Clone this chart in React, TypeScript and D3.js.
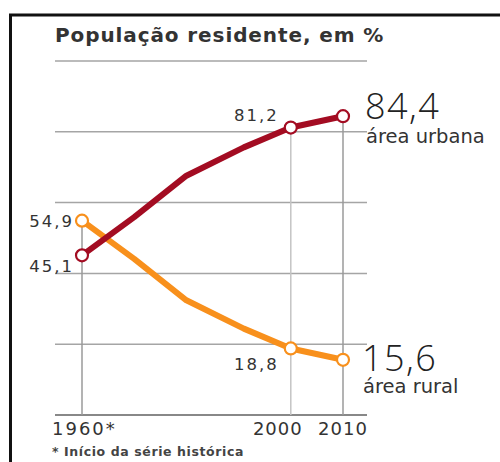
import * as d3 from "d3";
import React from "react";

const years = [1960, 1970, 1980, 1991, 2000, 2010];
const urbana = [45.1, 55.9, 67.6, 75.6, 81.2, 84.4];
const rural = [54.9, 44.1, 32.4, 24.4, 18.8, 15.6];
const gridValues = [0, 20, 40, 60, 80, 100];
const tickYears = [1960, 2000, 2010];
const tickLabels = ["1960*", "2000", "2010"];

const W = 500;
const H = 462;
const SANS = "'DejaVu Sans', Verdana, sans-serif";
const LIGHT = "'Open Sans', sans-serif";
const RED = "#a30c22";
const ORANGE = "#f8901c";

const fmt = (v: number) => d3.format(".1f")(v).replace(".", ",");

const App = () => {
	const x = d3.scaleLinear().domain([1960, 2010]).range([82, 343]);
	const y = d3.scaleLinear().domain([0, 100]).range([415, 61]);

	const line = d3
		.line<number>()
		.x((_, i) => x(years[i]))
		.y((d) => y(d));

	const last = years.length - 1;
	const i2000 = years.indexOf(2000);

	// tick label anchors: 1960* starts left of its line, 2000 nudged left to clear 2010
	const tickX = [52, x(2000) - 13, x(2010)];
	const tickAnchor = ["start", "middle", "middle"];

	return (
		<svg
			width={W}
			height={H}
			style={{ position: "absolute", left: 0, top: 0, background: "#fff" }}
		>
			{/* frame */}
			<line x1={10.5} x2={10.5} y1={14} y2={H} stroke="#111" strokeWidth={3} />
			<line x1={9} x2={W} y1={15} y2={15} stroke="#111" strokeWidth={3} />

			<text
				x={55}
				y={42}
				fontFamily={SANS}
				fontWeight={700}
				fontSize={20}
				letterSpacing={0.9}
				fill="#333"
			>
				População residente, em %
			</text>

			{/* grid */}
			{gridValues.map((v) => (
				<line
					key={v}
					x1={55}
					x2={367}
					y1={y(v)}
					y2={y(v)}
					stroke={v === 0 ? "#888" : "#a5a5a5"}
					strokeWidth={v === 0 ? 2 : 1.5}
				/>
			))}

			{/* drop lines */}
			{tickYears.map((yr) => {
				const i = years.indexOf(yr);
				const top = Math.max(urbana[i], rural[i]);
				return (
					<line
						key={yr}
						x1={x(yr)}
						x2={x(yr)}
						y1={y(top)}
						y2={y(0)}
						stroke={yr === 2000 ? "#c4c4c4" : "#9a9a9a"}
						strokeWidth={1.5}
					/>
				);
			})}

			<path
				d={line(rural) ?? ""}
				fill="none"
				stroke={ORANGE}
				strokeWidth={6}
				strokeLinejoin="round"
			/>
			<path
				d={line(urbana) ?? ""}
				fill="none"
				stroke={RED}
				strokeWidth={6}
				strokeLinejoin="round"
			/>

			{tickYears.map((yr) => {
				const i = years.indexOf(yr);
				return (
					<g key={yr}>
						<circle cx={x(yr)} cy={y(rural[i])} r={6} fill="#fff" stroke={ORANGE} strokeWidth={2.2} />
						<circle cx={x(yr)} cy={y(urbana[i])} r={6} fill="#fff" stroke={RED} strokeWidth={2.2} />
					</g>
				);
			})}

			{/* value labels */}
			<g fontFamily={SANS} fill="#333" fontSize={16.5} letterSpacing={2}>
				<text x={74} y={y(rural[0]) + 6} textAnchor="end">
					{fmt(rural[0])}
				</text>
				<text x={74} y={y(urbana[0]) + 17} textAnchor="end">
					{fmt(urbana[0])}
				</text>
				<text x={x(2000) - 12} y={y(urbana[i2000]) - 7} textAnchor="end">
					{fmt(urbana[i2000])}
				</text>
				<text x={x(2000) - 12} y={y(rural[i2000]) + 22} textAnchor="end">
					{fmt(rural[i2000])}
				</text>
			</g>

			<g fill="#222">
				<text x={365} y={119} fontFamily={LIGHT} fontSize={36} fontWeight={300} letterSpacing={1.5}>
					{fmt(urbana[last])}
				</text>
				<text x={366} y={143} fontFamily={SANS} fontSize={19.5} fill="#333">
					área urbana
				</text>
				<text x={362} y={371} fontFamily={LIGHT} fontSize={36} fontWeight={300} letterSpacing={1.5}>
					{fmt(rural[last])}
				</text>
				<text x={363} y={393} fontFamily={SANS} fontSize={19.5} fill="#333">
					área rural
				</text>
			</g>

			{/* x tick labels */}
			<g fontFamily={SANS} fill="#333" fontSize={18} letterSpacing={1}>
				{tickYears.map((yr, i) => (
					<text
						key={yr}
						x={tickX[i]}
						y={435}
						textAnchor={tickAnchor[i]}
						letterSpacing={i === 0 ? 2 : 1}
					>
						{tickLabels[i]}
					</text>
				))}
			</g>

			<text
				x={52}
				y={456}
				fontFamily={SANS}
				fontSize={12.5}
				fontWeight={700}
				letterSpacing={0.6}
				fill="#444"
			>
				* Início da série histórica
			</text>
		</svg>
	);
};

export default App;
